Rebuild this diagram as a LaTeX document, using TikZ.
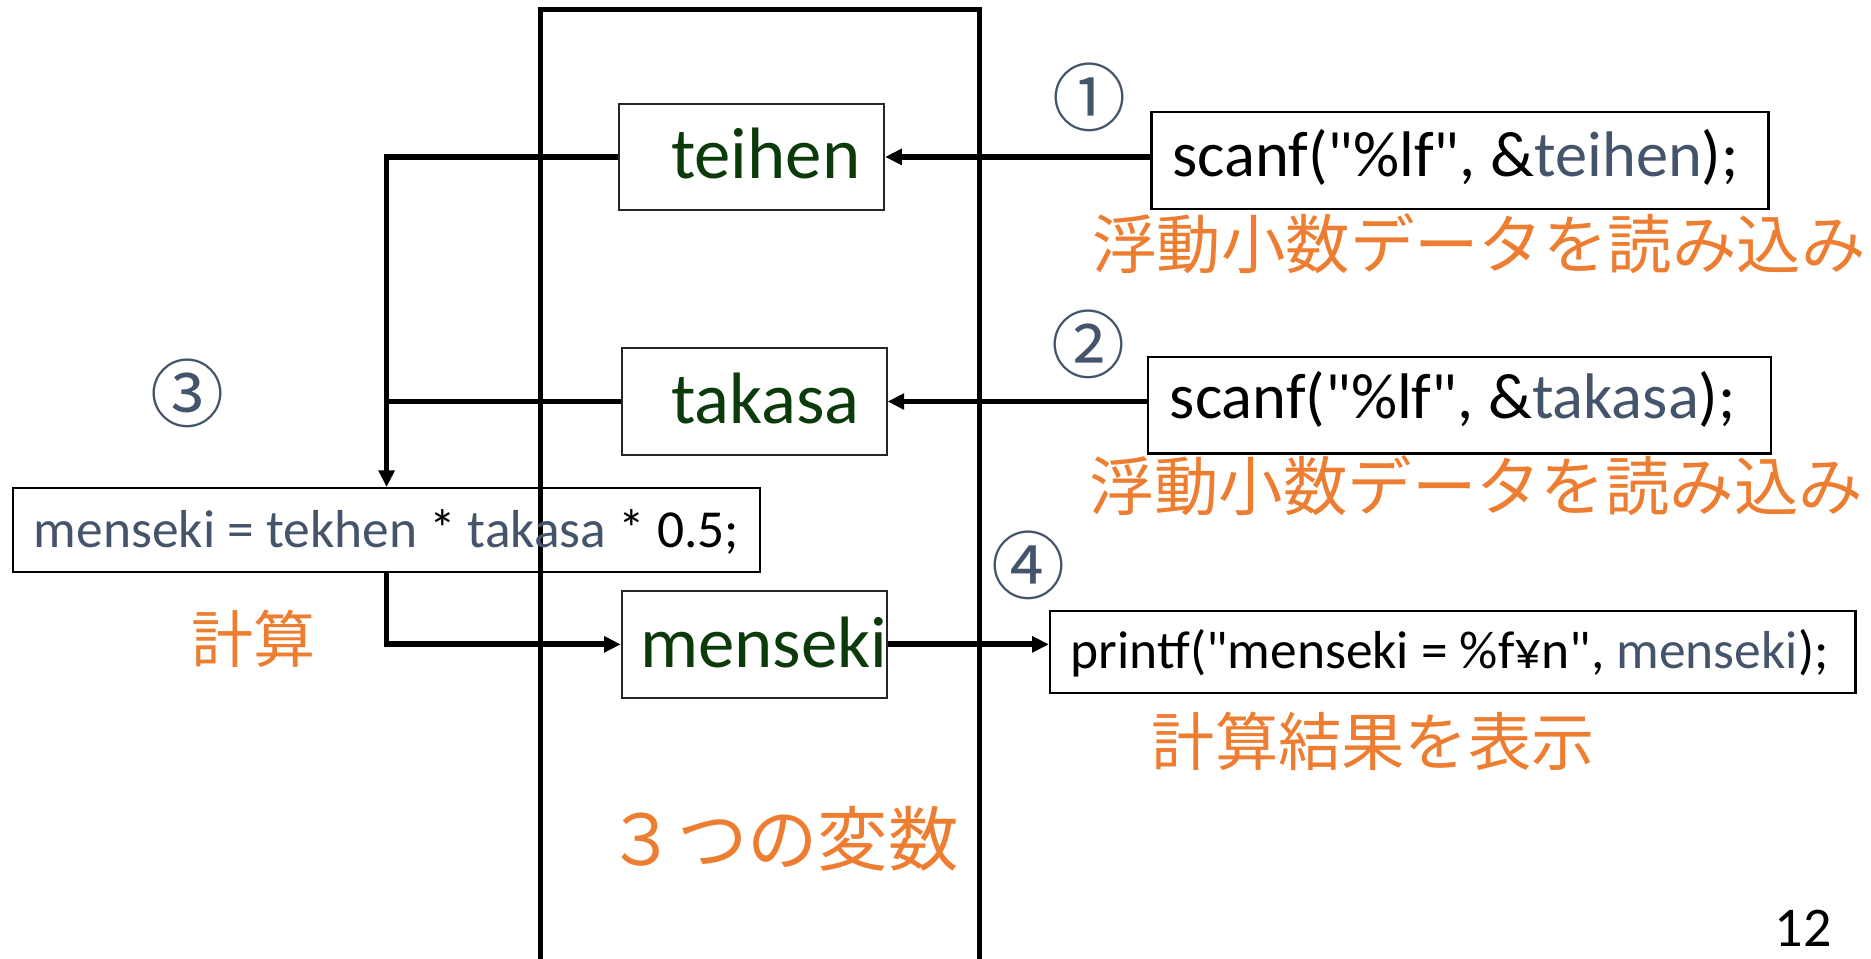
\documentclass[tikz,border=0pt]{standalone}
\usepackage{fontspec}
\setmainfont{Carlito}[Ligatures=TeXOff]
\newfontfamily\jp{Noto Sans CJK JP}
\usetikzlibrary{arrows.meta}
\definecolor{vgreen}{HTML}{0B3A0B}
\definecolor{slate}{HTML}{44546A}
\definecolor{orng}{HTML}{ED7D31}
\tikzset{
  varbox/.style={draw=black!85, line width=0.8pt, minimum width=111pt, minimum height=44.5pt, inner sep=0pt},
  codebox/.style={draw=black, line width=1pt, inner sep=0pt},
  conn/.style={line width=2.4pt, -{Triangle[length=7pt,width=6.5pt]}},
  plain/.style={line width=2.4pt},
  vartext/.style={text=vgreen, font=\fontsize{30.5}{36}\selectfont, inner sep=0pt, anchor=base west},
  scantext/.style={font=\fontsize{27}{32}\selectfont, inner sep=0pt, anchor=base west},
  smalltext/.style={font=\fontsize{22.4}{27}\selectfont, inner sep=0pt, anchor=base west},
  note/.style={text=orng, font=\jp\fontsize{27}{32}\selectfont, inner sep=0pt, anchor=west},
  circ/.style={text=slate, font=\jp\fontsize{31}{36}\selectfont, inner sep=0pt},
}
\begin{document}
\begin{tikzpicture}[x=0.5pt,y=-0.5pt]
\useasboundingbox (0,0) rectangle (1568,803);
\clip (0,0) rectangle (1568,803);
% big rectangle of the three variables
\draw[line width=2pt] (453,8) rectangle (821,900);
% variable boxes
\node[varbox] (teihen) at (630,131.5) {};
\node[varbox] (takasa) at (632,336.5) {};
\node[varbox, minimum height=45pt] (menseki) at (632,540) {};
\node[vartext] (tteihen) at (562,150) {teihen};
\node[vartext] (ttakasa) at (562,355) {takasa};
\node[vartext] (tmenseki) at (536,559) {menseki};
% code boxes
\node[codebox, minimum width=258.5pt, minimum height=40.5pt] (scan1) at (1223.5,134.5) {};
\node[codebox, minimum width=261pt, minimum height=40.5pt] (scan2) at (1223,339.5) {};
\node[codebox, line width=0.8pt, minimum width=313pt, minimum height=35pt] (calc) at (324,444) {};
\node[codebox, minimum width=337.5pt, minimum height=34.5pt] (printf) at (1217.5,546.5) {};
\node[scantext] (tscan1) at (982,148) {scanf("\%lf", \&\textcolor{slate}{teihen});};
\node[scantext] (tscan2) at (980,351) {scanf("\%lf", \&\textcolor{slate}{takasa});};
\node[smalltext] (tcalc) at (28,459) {\textcolor{slate}{menseki = tekhen} * \textcolor{slate}{takasa} * 0.5;};
\node[smalltext] (tprintf) at (897,560) {printf("menseki = \%f¥n", \textcolor{slate}{menseki});};
% circled numbers
\node[circ] (c1) at (913,82) {①};
\node[circ] (c2) at (912,289) {②};
\node[circ] (c3) at (157,330) {③};
\node[circ] (c4) at (862,474) {④};
% orange notes
\node[note] (n1) at (915,204) {浮動小数データを読み込み};
\node[note] (n2) at (913,407) {浮動小数データを読み込み};
\node[note, font=\jp\fontsize{26}{30}\selectfont] (n3) at (160,535) {計算};
\node[note, font=\jp\fontsize{26.5}{30}\selectfont] (n4) at (965,621) {計算結果を表示};
\node[note, font=\jp\fontsize{29.5}{34}\selectfont] (n5) at (508,703) {３つの変数};
% page number
\node[font=\fontsize{23.5}{28}\selectfont, inner sep=0pt, anchor=base west] (pg) at (1487,793) {12};
% connectors
\draw[conn] (scan1.west |- teihen.east) -- (teihen.east);
\draw[conn] (scan2.west |- takasa.east) -- (takasa.east);
\draw[conn] (teihen.west) -| (calc.north);
\draw[plain] (takasa.west) -- (takasa.west -| calc.north);
\draw[conn] (calc.south) |- (menseki.west);
\draw[conn] (menseki.east) -- (printf.west |- menseki.east);
\end{tikzpicture}
\end{document}
